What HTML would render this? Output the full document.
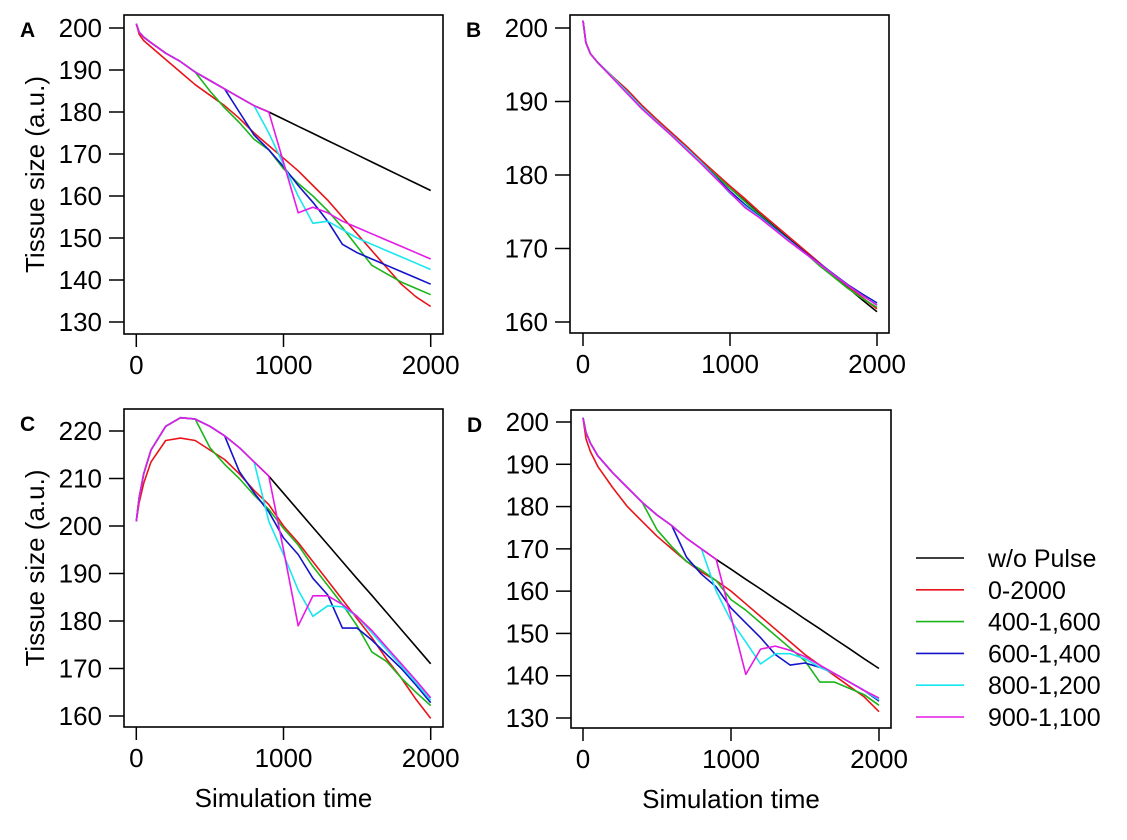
<!DOCTYPE html>
<html><head><meta charset="utf-8"><style>
body{margin:0;background:#fff;}
svg text{font-family:"Liberation Sans",sans-serif;fill:#000;}
</style></head><body>
<svg id="fig" width="1127" height="835" viewBox="0 0 1127 835" xmlns="http://www.w3.org/2000/svg"></svg>
<script>
const times = [0,20,50,100,200,300,400,500,600,700,800,900,1000,1100,1200,1300,1400,1500,1600,1700,1800,1900,2000];
const seriesNames = ["w/o Pulse","0-2000","400-1,600","600-1,400","800-1,200","900-1,100"];
const seriesColors = ["#000000","#e8141a","#1cb51c","#1414c8","#19e6f0","#e619e6"];
// Panel A
const aBlack = [201,199,197.8,196.5,194,192,189.5,187.5,185.5,183.5,181.5,180,178.3,176.6,174.9,173.2,171.5,169.8,168.1,166.4,164.7,163.0,161.3];
const aRed   = [201,198.5,197,195.5,192.5,189.5,186.5,184,181.5,178.5,175,172,169,166,162.5,159,155,151,147,143,139,136,133.7];
const aGreen = [201,199,197.8,196.5,194,192,189.5,185,181,177.5,173.5,171,166.5,163,160,156.5,152.5,148,143.5,141.5,139.5,138,136.5];
const aBlue  = [201,199,197.8,196.5,194,192,189.5,187.5,185.5,180,174.5,171,167,162.5,158.5,154,148.5,146.5,145,143.5,142,140.5,139];
const aCyan  = [201,199,197.8,196.5,194,192,189.5,187.5,185.5,183.5,181.5,175,167.5,160,153.5,154,152,150,148.5,147,145.5,144,142.5];
const aMag   = [201,199,197.8,196.5,194,192,189.5,187.5,185.5,183.5,181.5,180,168,156,157.3,156,154,152.5,151,149.5,148,146.5,145];
// Panel B
const bBlack = [201,198,196.5,195.3,193.3,191.3,189.2,187.3,185.5,183.7,181.8,180,178.2,176.5,174.7,173,171.3,169.7,168,166.3,164.7,163,161.4];
const bRed   = [201,198,196.5,195.3,193.4,191.6,189.5,187.6,185.8,184,182.1,180.3,178.5,176.8,175,173.3,171.6,169.9,168.2,166.5,164.9,163.3,161.8];
const bGreen = [201,198,196.5,195.3,193.3,191.3,189.2,187.3,185.5,183.7,181.8,180,178.2,176.4,174.6,172.9,171.2,169.6,167.8,166.2,164.6,163.2,162];
const bBlue  = [201,198,196.5,195.3,193.3,191.3,189.2,187.3,185.5,183.7,181.8,179.8,177.8,176,174.4,172.8,171.2,169.6,168.1,166.6,165.1,163.8,162.6];
const bCyan  = [201,198,196.5,195.3,193.3,191.3,189.2,187.3,185.5,183.7,181.8,179.7,177.5,175.8,174.3,172.7,171.1,169.5,168,166.5,165,163.6,162.4];
const bMag   = [201,198,196.5,195.3,193.2,191.1,189,187.2,185.4,183.5,181.6,179.6,177.6,175.6,174.2,172.6,171,169.5,168,166.5,165,163.6,162.3];
// Panel C
const cBlack = [201,206,211,216,221,222.8,222.5,221,219,216.5,213.5,210.5,206.9,203.3,199.7,196.1,192.5,188.9,185.4,181.8,178.2,174.6,171];
const cRed   = [201,205,209,213.5,218,218.5,218,216,214,211,207.5,204.5,200,196.5,192.5,188.5,184.5,180.5,176.5,172,168,163.5,159.5];
const cGreen = [201,206,211,216,221,222.8,222.5,216.5,213,210,206.5,203.5,199.5,196,191.5,187.5,183.5,179,173.5,171.5,168,165,162.2];
const cBlue  = [201,206,211,216,221,222.8,222.5,221,219,211.5,207,203,197.5,194,189,185.5,178.5,178.5,176,173,170,166.5,162.8];
const cCyan  = [201,206,211,216,221,222.8,222.5,221,219,216.5,213.5,201,194,186.5,181,183.2,183,181,177.5,174,170.5,167,163.3];
const cMag   = [201,206,211,216,221,222.8,222.5,221,219,216.5,213.5,210.5,195,179,185.3,185.3,183.5,181,178,174.5,171,167.5,163.8];
// Panel D
const dBlack = [201,197.5,195,192,188,184.5,181,178,175.5,172.5,170,167.5,165.2,162.8,160.5,158.1,155.8,153.4,151.1,148.7,146.4,144.0,141.7];
const dRed   = [201,196,193,189.5,184.5,180,176.5,173,170,167,164.5,162.5,160,157,154,151,148,145,142.5,140,137.5,135,131.5];
const dGreen = [201,197.5,195,192,188,184.5,181,174.5,170.5,167,165,162.5,158,155.5,152.5,149.5,146.5,143.5,138.5,138.5,137,135.5,133];
const dBlue  = [201,197.5,195,192,188,184.5,181,178,175.5,168,164,161,156,152.5,149,145,142.5,143,142,140.5,138.5,136.5,134];
const dCyan  = [201,197.5,195,192,188,184.5,181,178,175.5,172.5,170,160,153,148,142.8,145.2,145.2,144,142,140.5,138.5,136.5,134.3];
const dMag   = [201,197.5,195,192,188,184.5,181,178,175.5,172.5,170,167.5,154,140.3,146.3,147,146,144.5,142.5,140.5,138.5,136.5,134.7];
const aTicks = [130,140,150,160,170,180,190,200];
const bTicks = [160,170,180,190,200];
const cTicks = [160,170,180,190,200,210,220];
const dTicks = [130,140,150,160,170,180,190,200];
const xTicks = [0,1000,2000];

const NS = "http://www.w3.org/2000/svg";
const svg = document.getElementById("fig");
function mk(tag, attrs, parent){
  const e = document.createElementNS(NS, tag);
  for (const k in attrs) e.setAttribute(k, attrs[k]);
  (parent||svg).appendChild(e); return e;
}
const panels = [
  {id:"a", letter:"A", box:[124,15,443,334], x0:136.3, x1:430.7, yv0:200, yp0:28, yv1:130, yp1:322, ticks:aTicks, series:[aBlack,aRed,aGreen,aBlue,aCyan,aMag], ylab:true, xlab:false},
  {id:"b", letter:"B", box:[570,15,889,333], x0:583, x1:877, yv0:200, yp0:28, yv1:160, yp1:322, ticks:bTicks, series:[bBlack,bRed,bGreen,bBlue,bCyan,bMag], ylab:false, xlab:false},
  {id:"c", letter:"C", box:[124,409,443,727], x0:136.3, x1:430.7, yv0:220, yp0:431, yv1:160, yp1:716, ticks:cTicks, series:[cBlack,cRed,cGreen,cBlue,cCyan,cMag], ylab:true, xlab:true},
  {id:"d", letter:"D", box:[571,410,891,728], x0:583, x1:879, yv0:200, yp0:422, yv1:130, yp1:718, ticks:dTicks, series:[dBlack,dRed,dGreen,dBlue,dCyan,dMag], ylab:false, xlab:true}
];
panels.forEach(p=>{
  const g = mk("g",{});
  
  
  const xs = t => p.x0 + (t/2000)*(p.x1-p.x0);
  const ys = v => p.yp0 + (v-p.yv0)*(p.yp1-p.yp0)/(p.yv1-p.yv0);
  const [L,T,R,B] = p.box;
  p.series.forEach((vals,i)=>{
    const d = vals.map((v,j)=>(j?"L":"M")+xs(times[j]).toFixed(1)+","+ys(v).toFixed(1)).join(" ");
    const path = mk("path",{d:d,fill:"none",stroke:seriesColors[i],"stroke-width":1.6,"stroke-linejoin":"round"},g);
    
    
  });
  const box = mk("rect",{x:L,y:T,width:R-L,height:B-T,fill:"none",stroke:"#000","stroke-width":1.6},g);
  
  
  p.ticks.forEach(v=>{
    const y = ys(v);
    mk("line",{x1:L-15,x2:L,y1:y,y2:y,stroke:"#000","stroke-width":1.5},g);
    const t = mk("text",{x:L-22,y:y+9,"text-anchor":"end","font-size":26},g);
    t.textContent = v;
    
    
  });
  xTicks.forEach(v=>{
    const x = xs(v);
    mk("line",{x1:x,x2:x,y1:B,y2:B+13,stroke:"#000","stroke-width":1.5},g);
    const t = mk("text",{x:x,y:B+40,"text-anchor":"middle","font-size":26},g);
    t.textContent = v;
    
    
  });
  const lt = mk("text",{x:L-104,y:T+22,"font-size":21,"font-weight":"bold"},g);
  lt.textContent = p.letter;
  
  
  if (p.ylab){
    const cy = (T+B)/2;
    const yt = mk("text",{x:0,y:0,"text-anchor":"middle","font-size":26,transform:"translate(44,"+cy+") rotate(-90)"},g);
    yt.textContent = "Tissue size (a.u.)";
    
    
  }
  if (p.xlab){
    const xt = mk("text",{x:(p.x0+p.x1)/2,y:B+80,"text-anchor":"middle","font-size":26},g);
    xt.textContent = "Simulation time";
    
    
  }
});
const lg = mk("g",{});


seriesNames.forEach((n,i)=>{
  const y = 558 + i*31.8;
  const ln = mk("line",{x1:916,x2:964,y1:y,y2:y,stroke:seriesColors[i],"stroke-width":1.6},lg);
  
  
  const t = mk("text",{x:988,y:y+9,"font-size":25},lg);
  t.textContent = n;
  
  
});
</script>
</body></html>
